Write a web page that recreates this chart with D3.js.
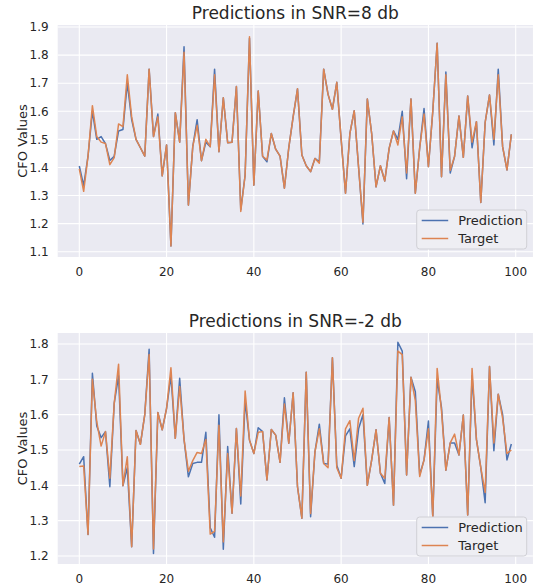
<!DOCTYPE html>
<html>
<head>
<meta charset="utf-8">
<script src="https://cdn.jsdelivr.net/npm/d3@7"></script>
<style>
  body { margin: 0; background: #fff; }
  text { font-family: "DejaVu Sans", sans-serif; fill: #262626; }
</style>
</head>
<body>
<div id="chart"></div>
<script>
// values
var snr8Target = [1.395,1.315,1.44,1.62,1.51,1.49,1.485,1.41,1.435,1.555,1.545,1.73,1.58,1.50,1.47,1.44,1.75,1.51,1.58,1.37,
  1.48,1.12,1.595,1.49,1.81,1.266,1.474,1.55,1.424,1.50,1.474,1.73,1.456,1.648,1.488,1.49,1.688,1.243,1.373,1.865,
  1.337,1.672,1.44,1.427,1.521,1.465,1.44,1.326,1.47,1.58,1.68,1.444,1.406,1.385,1.432,1.415,1.75,1.66,1.607,1.703,
  1.50,1.308,1.52,1.602,1.40,1.205,1.644,1.52,1.331,1.406,1.352,1.468,1.53,1.48,1.58,1.38,1.644,1.308,1.47,1.59,
  1.403,1.60,1.842,1.367,1.73,1.39,1.44,1.583,1.436,1.654,1.49,1.563,1.275,1.56,1.658,1.50,1.73,1.474,1.391,1.518];
var snr8Pred = [1.405,1.335,1.44,1.60,1.50,1.51,1.485,1.425,1.44,1.53,1.535,1.70,1.57,1.50,1.47,1.44,1.75,1.51,1.59,1.37,
  1.48,1.12,1.595,1.49,1.83,1.266,1.474,1.57,1.424,1.49,1.474,1.75,1.456,1.648,1.488,1.49,1.688,1.25,1.373,1.86,
  1.337,1.672,1.44,1.42,1.521,1.465,1.44,1.326,1.47,1.58,1.68,1.444,1.406,1.385,1.432,1.42,1.75,1.66,1.607,1.703,
  1.50,1.308,1.52,1.602,1.40,1.199,1.644,1.52,1.331,1.406,1.352,1.468,1.53,1.50,1.60,1.36,1.644,1.308,1.47,1.61,
  1.403,1.60,1.842,1.367,1.74,1.38,1.44,1.583,1.436,1.654,1.47,1.563,1.275,1.56,1.658,1.48,1.75,1.474,1.391,1.518];
var snrm2Target = [1.453,1.455,1.261,1.70,1.58,1.511,1.552,1.42,1.632,1.743,1.399,1.481,1.226,1.555,1.516,1.60,1.77,1.22,1.606,1.557,
  1.618,1.733,1.533,1.68,1.53,1.44,1.47,1.493,1.49,1.53,1.262,1.27,1.57,1.24,1.49,1.321,1.561,1.37,1.667,1.528,
  1.49,1.55,1.552,1.415,1.558,1.542,1.465,1.63,1.519,1.662,1.396,1.307,1.72,1.32,1.495,1.56,1.462,1.45,1.761,1.45,
  1.42,1.56,1.583,1.47,1.59,1.618,1.40,1.472,1.557,1.434,1.42,1.592,1.344,1.78,1.77,1.429,1.706,1.64,1.425,1.472,
  1.56,1.311,1.731,1.61,1.443,1.52,1.545,1.486,1.599,1.316,1.731,1.53,1.45,1.38,1.736,1.52,1.658,1.59,1.49,1.50];
var snrm2Pred = [1.46,1.481,1.261,1.717,1.568,1.535,1.552,1.396,1.632,1.71,1.399,1.45,1.226,1.555,1.516,1.60,1.785,1.207,1.606,1.557,
  1.618,1.71,1.533,1.703,1.53,1.424,1.462,1.465,1.465,1.55,1.28,1.253,1.60,1.219,1.51,1.321,1.561,1.347,1.64,1.528,
  1.49,1.563,1.552,1.415,1.558,1.542,1.465,1.648,1.519,1.662,1.396,1.307,1.72,1.311,1.495,1.573,1.462,1.46,1.761,1.457,
  1.42,1.54,1.56,1.453,1.56,1.60,1.40,1.472,1.557,1.434,1.405,1.592,1.344,1.805,1.78,1.429,1.706,1.665,1.43,1.472,
  1.582,1.311,1.70,1.62,1.443,1.52,1.52,1.486,1.599,1.316,1.71,1.53,1.45,1.351,1.736,1.498,1.658,1.60,1.472,1.517];

var xTicks = [0, 20, 40, 60, 80, 100];
var yTicks8 = [1.1, 1.2, 1.3, 1.4, 1.5, 1.6, 1.7, 1.8, 1.9];
var yTicksM2 = [1.2, 1.3, 1.4, 1.5, 1.6, 1.7, 1.8];
var seriesNames = ["Prediction", "Target"];
var colors = ["#4C72B0", "#DD8452"];

var svg = d3.select("#chart").append("svg")
  .attr("width", 535)
  .attr("height", 585);

function drawPanel(cfg) {
  var x = d3.scaleLinear().domain([0, 100]).range([79.3, 515.7]);
  var y = d3.scaleLinear().domain(cfg.yDomain).range(cfg.yRange);
  var x0 = x(-4.95), x1 = x(103.95);
  var y0 = cfg.top, y1 = cfg.bottom;

  var g = svg.append("g");

  g.append("rect")
    .attr("x", x0).attr("y", y0)
    .attr("width", x1 - x0).attr("height", y1 - y0)
    .attr("fill", "#EAEAF2");

  // grid
  g.selectAll(".vgrid").data(xTicks).enter().append("line")
    .attr("x1", function(d){ return x(d); }).attr("x2", function(d){ return x(d); })
    .attr("y1", y0).attr("y2", y1)
    .attr("stroke", "#fff").attr("stroke-width", 1.1);
  g.selectAll(".hgrid").data(cfg.yTicks).enter().append("line")
    .attr("x1", x0).attr("x2", x1)
    .attr("y1", function(d){ return y(d); }).attr("y2", function(d){ return y(d); })
    .attr("stroke", "#fff").attr("stroke-width", 1.1);

  // tick labels
  g.selectAll(".xt").data(xTicks).enter().append("text")
    .attr("x", function(d){ return x(d); })
    .attr("y", y1 + 19)
    .attr("text-anchor", "middle")
    .attr("font-size", 12)
    .text(function(d){ return d; });
  g.selectAll(".yt").data(cfg.yTicks).enter().append("text")
    .attr("x", x0 - 9)
    .attr("y", function(d){ return y(d) + 4.3; })
    .attr("text-anchor", "end")
    .attr("font-size", 12)
    .text(function(d){ return d.toFixed(1); });

  // lines
  var line = d3.line()
    .x(function(d, i){ return x(i); })
    .y(function(d){ return y(d); });
  [cfg.pred, cfg.target].forEach(function(s, k){
    g.append("path")
      .datum(s)
      .attr("d", line)
      .attr("fill", "none")
      .attr("stroke", colors[k])
      .attr("stroke-width", 1.5)
      .attr("stroke-linejoin", "round");
  });

  // title + y label
  g.append("text")
    .attr("x", (x0 + x1) / 2)
    .attr("y", y0 - 6)
    .attr("text-anchor", "middle")
    .attr("font-size", 17)
    .text(cfg.title);
  g.append("text")
    .attr("transform", "translate(" + 27 + "," + ((y0 + y1) / 2) + ") rotate(-90)")
    .attr("text-anchor", "middle")
    .attr("font-size", 13)
    .text("CFO Values");

  // legend
  var lx = 416.7, ly = y1 - 47;
  var lg = g.append("g");
  lg.append("rect")
    .attr("x", lx).attr("y", ly)
    .attr("width", 110).attr("height", 39)
    .attr("rx", 3)
    .attr("fill", "#EEEEF3")
    .attr("stroke", "#d0d0d6")
    .attr("stroke-width", 1);
  seriesNames.forEach(function(name, k){
    var yy = ly + 10.5 + k * 18;
    lg.append("line")
      .attr("x1", lx + 5).attr("x2", lx + 31.5)
      .attr("y1", yy).attr("y2", yy)
      .attr("stroke", colors[k]).attr("stroke-width", 1.5);
    lg.append("text")
      .attr("x", lx + 41.5)
      .attr("y", yy + 4.8)
      .attr("font-size", 13)
      .text(name);
  });
}

drawPanel({
  title: "Predictions in SNR=8 db",
  target: snr8Target, pred: snr8Pred,
  yDomain: [1.9, 1.1], yRange: [27, 251.7],
  yTicks: yTicks8, top: 25, bottom: 257
});
drawPanel({
  title: "Predictions in SNR=-2 db",
  target: snrm2Target, pred: snrm2Pred,
  yDomain: [1.8, 1.2], yRange: [344, 556],
  yTicks: yTicksM2, top: 333, bottom: 564
});
</script>
</body>
</html>
